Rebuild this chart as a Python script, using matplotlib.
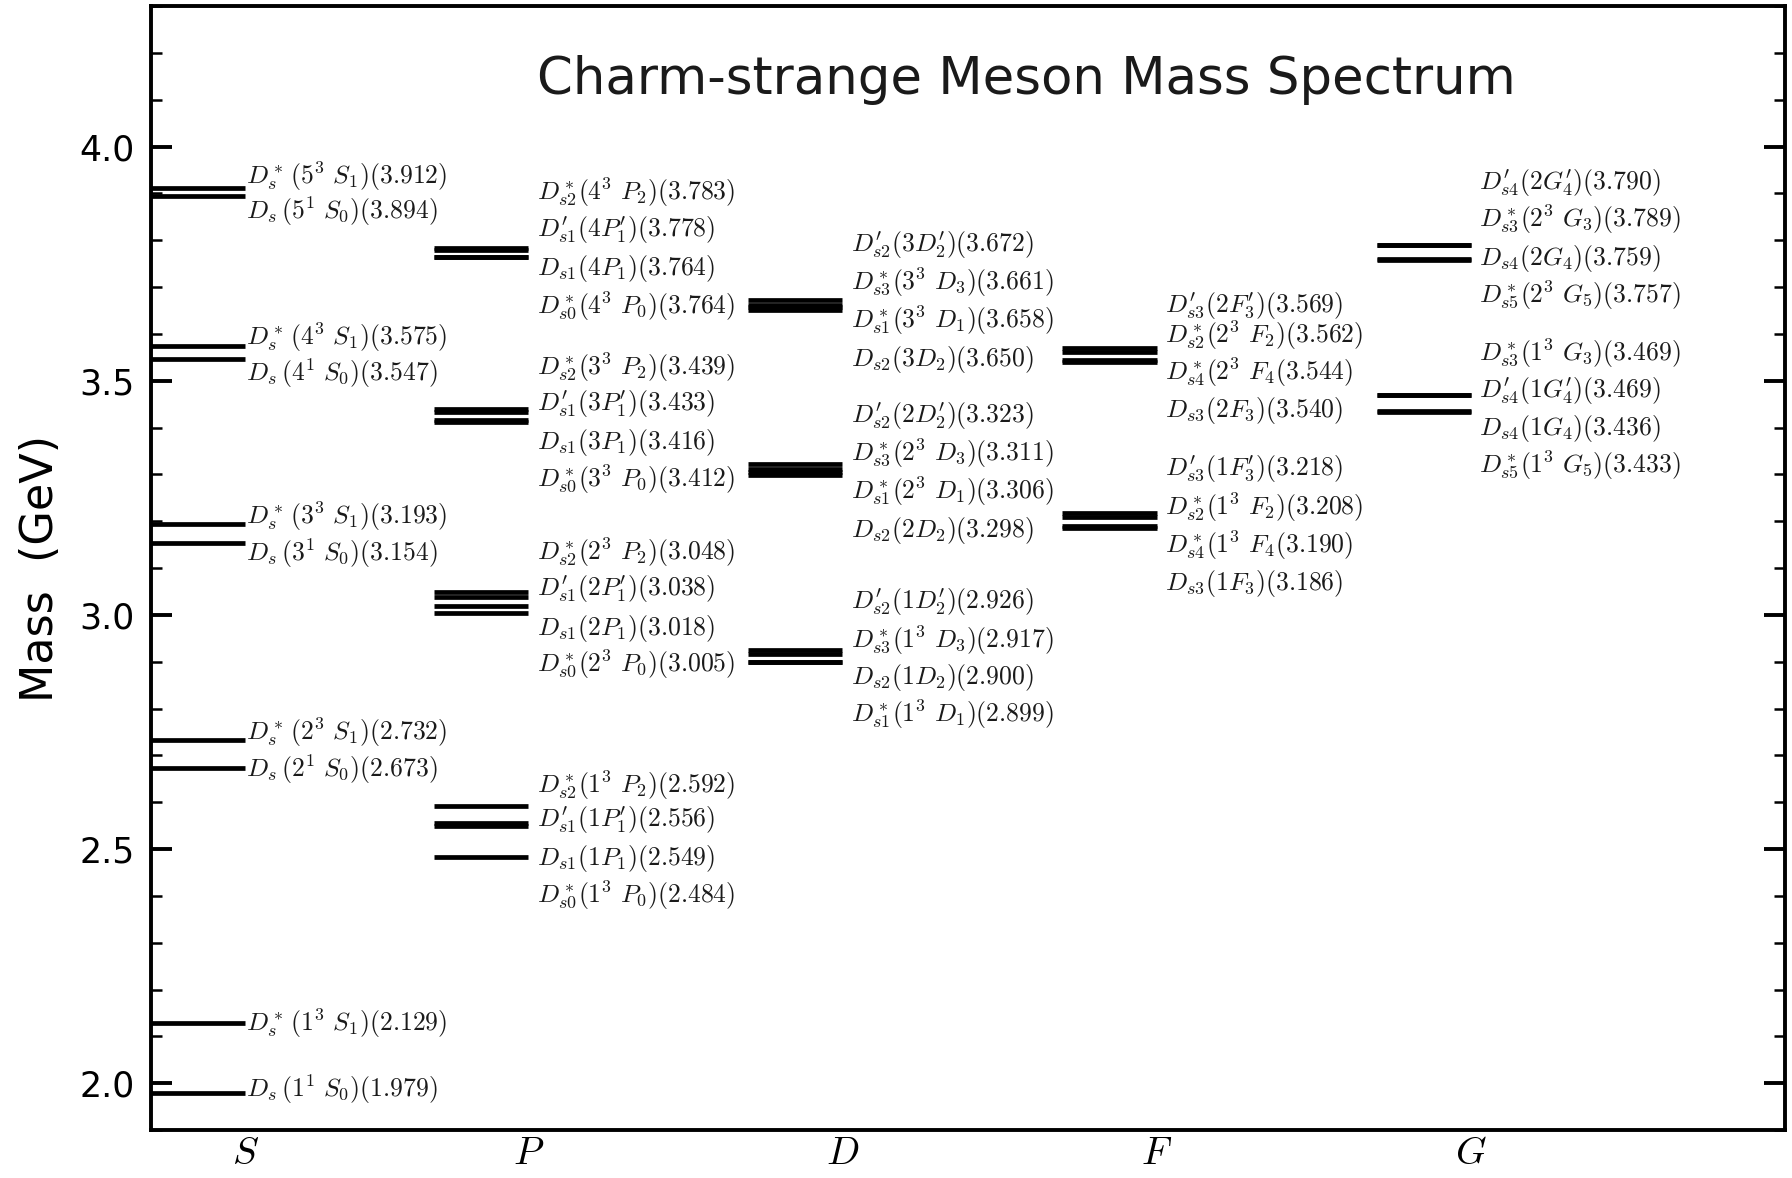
import matplotlib
matplotlib.use('Agg')
import matplotlib.pyplot as plt
from matplotlib.ticker import MultipleLocator

plt.rcParams['mathtext.fontset'] = 'cm'
plt.rcParams['font.family'] = 'DejaVu Sans'

#-----------------------Spectrum data (GeV)--------------------
waves = ['S', 'P', 'D', 'F', 'G']

massS = [3.912, 3.894, 3.575, 3.547, 3.193, 3.154, 2.732, 2.673, 2.129, 1.979]
nameS = [r"D_s^*\,(5^3\ S_1)", r"D_s\,(5^1\ S_0)",
         r"D_s^*\,(4^3\ S_1)", r"D_s\,(4^1\ S_0)",
         r"D_s^*\,(3^3\ S_1)", r"D_s\,(3^1\ S_0)",
         r"D_s^*\,(2^3\ S_1)", r"D_s\,(2^1\ S_0)",
         r"D_s^*\,(1^3\ S_1)", r"D_s\,(1^1\ S_0)"]

massP = [3.783, 3.778, 3.764, 3.764, 3.439, 3.433, 3.416, 3.412,
         3.048, 3.038, 3.018, 3.005, 2.592, 2.556, 2.549, 2.484]
nameP = [r"D^*_{s2}(4^3\ P_2)", r"D^{\prime}_{s1}(4P^{\prime}_1)", r"D_{s1}(4P_1)", r"D^*_{s0}(4^3\ P_0)",
         r"D^*_{s2}(3^3\ P_2)", r"D^{\prime}_{s1}(3P^{\prime}_1)", r"D_{s1}(3P_1)", r"D^*_{s0}(3^3\ P_0)",
         r"D^*_{s2}(2^3\ P_2)", r"D^{\prime}_{s1}(2P^{\prime}_1)", r"D_{s1}(2P_1)", r"D^*_{s0}(2^3\ P_0)",
         r"D^*_{s2}(1^3\ P_2)", r"D^{\prime}_{s1}(1P^{\prime}_1)", r"D_{s1}(1P_1)", r"D^*_{s0}(1^3\ P_0)"]

massD = [3.672, 3.661, 3.658, 3.650, 3.323, 3.311, 3.306, 3.298,
         2.926, 2.917, 2.900, 2.899]
nameD = [r"D^{\prime}_{s2}(3D^{\prime}_2)", r"D^*_{s3}(3^3\ D_3)", r"D^*_{s1}(3^3\ D_1)", r"D_{s2}(3D_2)",
         r"D^{\prime}_{s2}(2D^{\prime}_2)", r"D^*_{s3}(2^3\ D_3)", r"D^*_{s1}(2^3\ D_1)", r"D_{s2}(2D_2)",
         r"D^{\prime}_{s2}(1D^{\prime}_2)", r"D^*_{s3}(1^3\ D_3)", r"D_{s2}(1D_2)", r"D^*_{s1}(1^3\ D_1)"]

massF = [3.569, 3.562, 3.544, 3.540, 3.218, 3.208, 3.190, 3.186]
nameF = [r"D^{\prime}_{s3}(2F^{\prime}_3)", r"D^*_{s2}(2^3\ F_2)", r"D^*_{s4}(2^3\ F_4", r"D_{s3}(2F_3)",
         r"D^{\prime}_{s3}(1F^{\prime}_3)", r"D^*_{s2}(1^3\ F_2)", r"D^*_{s4}(1^3\ F_4", r"D_{s3}(1F_3)"]

massG = [3.790, 3.789, 3.759, 3.757, 3.469, 3.469, 3.436, 3.433]
nameG = [r"D^{\prime}_{s4}(2G^{\prime}_4)", r"D^*_{s3}(2^3\ G_3)", r"D_{s4}(2G_4)", r"D^*_{s5}(2^3\ G_5)",
         r"D^*_{s3}(1^3\ G_3)", r"D^{\prime}_{s4}(1G^{\prime}_4)", r"D_{s4}(1G_4)", r"D^*_{s5}(1^3\ G_5)"]

# where each label sits, spread out so close levels stay readable
labelS = [3.937, 3.861, 3.593, 3.515, 3.210, 3.132, 2.749, 2.671, 2.129, 1.988]
labelP = [3.902, 3.822, 3.739, 3.659, 3.529, 3.449, 3.368, 3.290,
          3.134, 3.054, 2.971, 2.895, 2.637, 2.561, 2.480, 2.402]
labelD = [3.790, 3.710, 3.629, 3.546, 3.424, 3.344, 3.263, 3.180,
          3.027, 2.946, 2.866, 2.788]
labelF = [3.659, 3.598, 3.517, 3.437, 3.310, 3.229, 3.149, 3.066]
labelG = [3.922, 3.844, 3.761, 3.683, 3.559, 3.478, 3.398, 3.320]
#--------------------------------------------------------------

masses = [massS, massP, massD, massF, massG]
names = [nameS, nameP, nameD, nameF, nameG]
labels = [labelS, labelP, labelD, labelF, labelG]

xEnd = [0.3, 1.2, 2.2, 3.2, 4.2]
width = 0.3
textPad = [0.003, 0.027, 0.027, 0.027, 0.027]

fig = plt.figure(figsize=(17.92, 11.78), dpi=100)
ax = fig.add_axes([0.0843, 0.0407, 0.9118, 0.9542])

for i in range(len(waves)):
    ax.hlines(masses[i], xEnd[i] - width, xEnd[i], colors='black', linewidth=3.4)
    for m, nm, ly in zip(masses[i], names[i], labels[i]):
        ax.text(xEnd[i] + textPad[i], ly, r"$%s(%.3f)$" % (nm, m),
                fontsize=18.5, ha='left', va='center', color='#1a1a1a')

ax.set_xlim(0, 5.2)
ax.set_ylim(1.9, 4.3)

ax.set_xticks(xEnd)
ax.set_xticklabels([r"$%s$" % w for w in waves], fontsize=28)
ax.tick_params(axis='x', length=0, pad=3)

ax.yaxis.set_major_locator(MultipleLocator(0.5))
ax.yaxis.set_minor_locator(MultipleLocator(0.1))
ax.tick_params(axis='y', which='major', direction='in', length=15, width=2.8,
               left=True, right=True, labelsize=25, pad=12)
ax.tick_params(axis='y', which='minor', direction='in', length=8, width=1.8,
               left=True, right=True)

for sp in ax.spines.values():
    sp.set_linewidth(2.8)

ax.set_ylabel('Mass  (GeV)', fontsize=32, labelpad=12)

ax.text(0.536, 0.934, 'Charm-strange Meson Mass Spectrum', transform=ax.transAxes,
        ha='center', va='center', fontsize=37, color='#1a1a1a')

plt.savefig('out.png', dpi=100)
